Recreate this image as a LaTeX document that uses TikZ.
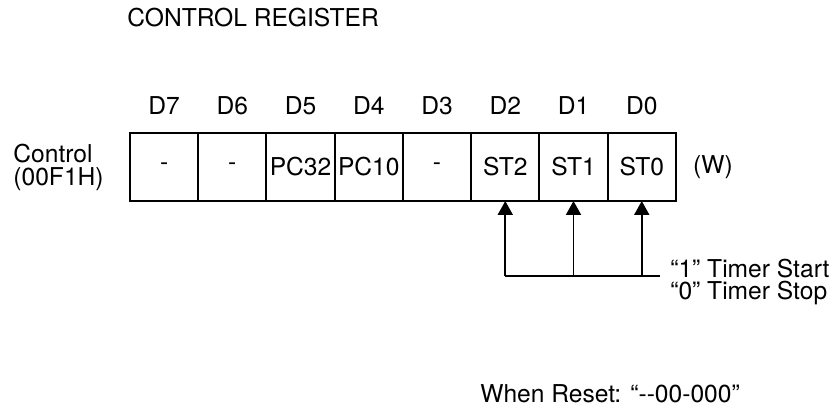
\documentclass[tikz,border=0pt]{standalone}
\usepackage{fontspec}
\setmainfont{TeX Gyre Heros}
\usetikzlibrary{arrows.meta, positioning}
\tikzset{
  % One bit field of the register
  bitcell/.style={
    rectangle, draw=black, line width=1.1pt,
    minimum width=1.365cm, minimum height=1.36cm,
    inner sep=0pt, outer sep=0pt
  },
  % Bit number above a field
  bitnum/.style={inner sep=0pt},
  % Free text
  plain/.style={inner sep=0pt, align=left},
  % Lines into the start bits
  selline/.style={line width=1.1pt},
  selarrow/.style={
    -{Triangle[length=0.28cm, width=0.3cm]}, line width=1.1pt
  }
}

\begin{document}
\begin{tikzpicture}[x=0.02cm, y=-0.02cm, font=\fontsize{14}{13}\selectfont]
  \useasboundingbox (0,0) rectangle (833,409);

  % ── TITLE ────────────────────────────────────────────────────────────────
  \node[plain, anchor=base west] (title) at (127,27) {CONTROL REGISTER};

  % ── REGISTER FIELDS D7 .. D0 ─────────────────────────────────────────────
  \node[bitcell] (c7) at (164.1,167) {-};
  \node[bitcell, right=0pt of c7] (c6) {-};
  \node[bitcell, right=0pt of c6] (c5) {PC32};
  \node[bitcell, right=0pt of c5] (c4) {PC10};
  \node[bitcell, right=0pt of c4] (c3) {-};
  \node[bitcell, right=0pt of c3] (c2) {ST2};
  \node[bitcell, right=0pt of c2] (c1) {ST1};
  \node[bitcell, right=0pt of c1] (c0) {ST0};

  % bit numbers
  \node[bitnum, above=0.36cm of c7] (d7) {D7};
  \node[bitnum, above=0.36cm of c6] (d6) {D6};
  \node[bitnum, above=0.36cm of c5] (d5) {D5};
  \node[bitnum, above=0.36cm of c4] (d4) {D4};
  \node[bitnum, above=0.36cm of c3] (d3) {D3};
  \node[bitnum, above=0.36cm of c2] (d2) {D2};
  \node[bitnum, above=0.36cm of c1] (d1) {D1};
  \node[bitnum, above=0.36cm of c0] (d0) {D0};

  % register name and access
  \node[plain, left=0.52cm of c7] (regname) {Control\\(00F1H)};
  \node[plain, right=0.34cm of c0] (access) {(W)};

  % ── START / STOP LINES ───────────────────────────────────────────────────
  \coordinate (busend) at (660,276);
  \draw[selline] (c2.south |- busend) -- (busend);
  \draw[selarrow] (c2.south |- busend) -- (c2.south);
  \draw[selarrow] (c1.south |- busend) -- (c1.south);
  \draw[selarrow] (c0.south |- busend) -- (c0.south);

  \node[plain, right=0.2cm of busend, yshift=-0.12cm] (timer)
        {“1” Timer Start\\“0” Timer Stop};

  % ── RESET VALUE ──────────────────────────────────────────────────────────
  \node[plain, anchor=base west] (reset) at (480,402)
        {When Reset: “-{}-00-000”};

\end{tikzpicture}
\end{document}
